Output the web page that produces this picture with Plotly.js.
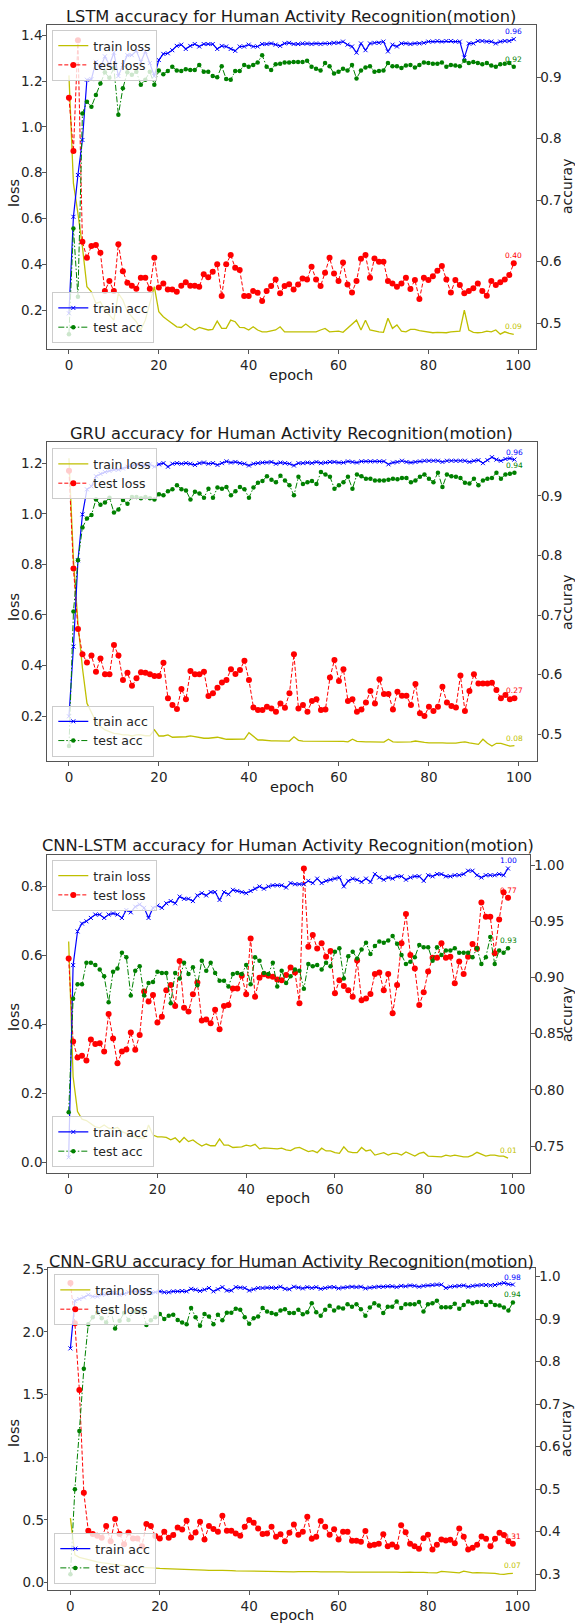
<!DOCTYPE html>
<html><head><meta charset="utf-8">
<script src="https://cdn.plot.ly/plotly-3.0.1.min.js"></script>
<style>html,body{margin:0;padding:0;background:#fff}#chart{width:575px;height:1624px}</style>
</head><body><div id="chart"></div>
<script>
// ---------------- DATA ----------------
const epochs = [...Array(100).keys()];
const seriesNames = ["train loss", "test loss", "train acc", "test acc"];
const titles = [
  "LSTM accuracy for Human Activity Recognition(motion)",
  "GRU accuracy for Human Activity Recognition(motion)",
  "CNN-LSTM accuracy for Human Activity Recognition(motion)",
  "CNN-GRU accuracy for Human Activity Recognition(motion)"
];
const xTitle = "epoch", yLeftTitle = "loss", yRightTitle = "accuray";

// LSTM
const lstmTrainLoss = [1.225,0.753,0.622,0.476,0.302,0.280,0.229,0.236,0.200,0.178,0.156,0.273,0.244,0.193,0.171,0.149,0.113,0.156,0.229,0.302,0.193,0.171,0.156,0.142,0.127,0.124,0.139,0.124,0.113,0.124,0.120,0.113,0.116,0.152,0.120,0.120,0.156,0.149,0.124,0.123,0.113,0.127,0.113,0.105,0.105,0.108,0.113,0.127,0.105,0.105,0.105,0.105,0.105,0.105,0.105,0.105,0.113,0.120,0.105,0.105,0.108,0.103,0.120,0.135,0.156,0.113,0.156,0.113,0.108,0.105,0.103,0.164,0.120,0.135,0.108,0.105,0.116,0.116,0.110,0.108,0.105,0.101,0.103,0.103,0.101,0.105,0.108,0.108,0.200,0.113,0.103,0.101,0.103,0.108,0.105,0.113,0.095,0.105,0.098,0.094];
const lstmTestLoss = [1.127,0.895,1.378,0.498,0.428,0.480,0.484,0.450,0.283,0.327,0.283,0.488,0.370,0.319,0.306,0.293,0.341,0.341,0.293,0.428,0.299,0.316,0.290,0.290,0.280,0.306,0.321,0.306,0.306,0.302,0.356,0.343,0.367,0.400,0.261,0.400,0.440,0.385,0.375,0.261,0.261,0.283,0.276,0.240,0.283,0.305,0.334,0.273,0.305,0.313,0.290,0.312,0.338,0.334,0.389,0.334,0.305,0.363,0.428,0.360,0.327,0.408,0.312,0.277,0.327,0.424,0.440,0.341,0.425,0.411,0.411,0.327,0.316,0.302,0.316,0.341,0.292,0.331,0.248,0.341,0.331,0.348,0.372,0.392,0.334,0.277,0.331,0.309,0.273,0.283,0.295,0.316,0.283,0.263,0.327,0.309,0.321,0.334,0.353,0.404];
const lstmTrainAcc = [0.516,0.673,0.741,0.798,0.896,0.897,0.925,0.915,0.934,0.920,0.940,0.902,0.920,0.936,0.936,0.943,0.925,0.942,0.923,0.902,0.928,0.938,0.939,0.944,0.951,0.953,0.946,0.951,0.954,0.950,0.954,0.954,0.954,0.946,0.951,0.950,0.946,0.943,0.950,0.950,0.953,0.950,0.950,0.954,0.954,0.955,0.953,0.951,0.955,0.956,0.954,0.954,0.955,0.955,0.954,0.955,0.954,0.955,0.955,0.956,0.956,0.958,0.953,0.950,0.940,0.955,0.944,0.955,0.956,0.956,0.958,0.942,0.953,0.950,0.955,0.955,0.954,0.955,0.955,0.956,0.958,0.958,0.959,0.958,0.959,0.959,0.958,0.958,0.932,0.955,0.955,0.959,0.959,0.958,0.958,0.955,0.958,0.959,0.959,0.962];
const lstmTestAcc = [0.482,0.654,0.543,0.841,0.860,0.852,0.871,0.890,0.908,0.899,0.915,0.839,0.882,0.908,0.904,0.909,0.888,0.896,0.909,0.888,0.911,0.905,0.910,0.917,0.911,0.910,0.913,0.912,0.912,0.920,0.909,0.909,0.902,0.900,0.918,0.897,0.896,0.910,0.910,0.920,0.917,0.920,0.924,0.936,0.917,0.912,0.921,0.922,0.924,0.924,0.925,0.925,0.925,0.927,0.917,0.914,0.911,0.923,0.918,0.906,0.909,0.914,0.911,0.920,0.898,0.911,0.916,0.918,0.909,0.910,0.911,0.923,0.918,0.918,0.915,0.919,0.920,0.916,0.920,0.924,0.923,0.922,0.922,0.924,0.917,0.920,0.919,0.918,0.927,0.923,0.925,0.923,0.921,0.923,0.919,0.917,0.921,0.922,0.923,0.917];

// GRU
const gruTrainLoss = [1.220,0.817,0.567,0.389,0.250,0.217,0.178,0.158,0.145,0.138,0.131,0.129,0.125,0.125,0.121,0.125,0.125,0.122,0.122,0.145,0.121,0.121,0.125,0.116,0.116,0.116,0.118,0.121,0.118,0.114,0.112,0.112,0.114,0.116,0.112,0.108,0.108,0.108,0.108,0.109,0.134,0.118,0.105,0.105,0.102,0.102,0.102,0.101,0.101,0.101,0.118,0.104,0.101,0.101,0.101,0.101,0.101,0.100,0.100,0.100,0.100,0.100,0.098,0.108,0.100,0.098,0.098,0.098,0.098,0.097,0.097,0.108,0.098,0.097,0.097,0.098,0.098,0.101,0.097,0.096,0.094,0.095,0.096,0.094,0.093,0.093,0.093,0.096,0.098,0.094,0.092,0.088,0.108,0.092,0.081,0.092,0.092,0.088,0.081,0.083];
const gruTestLoss = [1.170,0.784,0.544,0.444,0.412,0.439,0.375,0.428,0.365,0.365,0.481,0.439,0.342,0.371,0.320,0.349,0.373,0.371,0.365,0.358,0.358,0.411,0.270,0.244,0.228,0.307,0.266,0.378,0.365,0.365,0.375,0.279,0.290,0.312,0.333,0.342,0.385,0.366,0.382,0.419,0.342,0.234,0.224,0.224,0.237,0.230,0.217,0.250,0.233,0.290,0.444,0.230,0.244,0.217,0.259,0.266,0.224,0.226,0.352,0.422,0.339,0.385,0.259,0.266,0.217,0.226,0.253,0.299,0.250,0.345,0.287,0.287,0.226,0.296,0.280,0.280,0.244,0.327,0.211,0.200,0.237,0.220,0.237,0.316,0.253,0.240,0.234,0.360,0.220,0.299,0.365,0.329,0.329,0.329,0.332,0.303,0.270,0.283,0.266,0.270];
const gruTrainAcc = [0.530,0.647,0.792,0.869,0.911,0.916,0.933,0.937,0.940,0.942,0.944,0.944,0.946,0.949,0.950,0.953,0.952,0.951,0.953,0.949,0.953,0.955,0.949,0.954,0.955,0.954,0.955,0.954,0.952,0.955,0.956,0.954,0.955,0.952,0.955,0.958,0.956,0.957,0.955,0.954,0.951,0.954,0.955,0.956,0.956,0.957,0.954,0.956,0.955,0.954,0.951,0.955,0.955,0.956,0.955,0.957,0.955,0.956,0.957,0.957,0.956,0.956,0.958,0.957,0.956,0.958,0.958,0.958,0.958,0.958,0.958,0.953,0.956,0.957,0.959,0.957,0.956,0.957,0.958,0.959,0.959,0.959,0.959,0.957,0.959,0.959,0.959,0.959,0.959,0.957,0.959,0.960,0.955,0.960,0.965,0.961,0.959,0.962,0.963,0.961];
const gruTestAcc = [0.480,0.706,0.792,0.847,0.862,0.868,0.894,0.885,0.889,0.897,0.872,0.877,0.893,0.887,0.898,0.898,0.896,0.898,0.896,0.894,0.903,0.901,0.908,0.911,0.918,0.911,0.909,0.894,0.907,0.904,0.897,0.912,0.897,0.914,0.912,0.915,0.901,0.908,0.915,0.911,0.897,0.914,0.922,0.925,0.933,0.927,0.923,0.934,0.926,0.918,0.901,0.932,0.920,0.923,0.925,0.920,0.940,0.936,0.932,0.912,0.918,0.923,0.932,0.912,0.936,0.933,0.929,0.929,0.926,0.926,0.926,0.927,0.929,0.928,0.930,0.930,0.923,0.926,0.932,0.936,0.929,0.923,0.939,0.915,0.936,0.933,0.932,0.930,0.922,0.921,0.929,0.918,0.926,0.929,0.930,0.939,0.929,0.936,0.937,0.939];

// CNN-LSTM
const clTrainLoss = [0.641,0.249,0.148,0.126,0.122,0.114,0.104,0.101,0.109,0.100,0.098,0.102,0.090,0.085,0.078,0.075,0.071,0.071,0.109,0.080,0.075,0.075,0.073,0.066,0.072,0.059,0.073,0.061,0.066,0.056,0.048,0.054,0.049,0.049,0.069,0.051,0.051,0.044,0.046,0.046,0.051,0.048,0.053,0.040,0.043,0.042,0.040,0.040,0.042,0.037,0.035,0.042,0.044,0.039,0.032,0.035,0.029,0.042,0.034,0.034,0.029,0.027,0.046,0.032,0.029,0.029,0.044,0.034,0.037,0.022,0.025,0.029,0.022,0.027,0.027,0.022,0.031,0.025,0.019,0.027,0.030,0.019,0.019,0.017,0.017,0.022,0.019,0.022,0.019,0.017,0.017,0.022,0.030,0.024,0.019,0.022,0.022,0.019,0.019,0.013];
const clTestLoss = [0.592,0.351,0.305,0.310,0.296,0.357,0.344,0.346,0.322,0.431,0.360,0.288,0.322,0.328,0.377,0.327,0.370,0.496,0.467,0.486,0.406,0.423,0.500,0.515,0.454,0.585,0.449,0.438,0.488,0.522,0.412,0.415,0.404,0.443,0.387,0.454,0.457,0.505,0.505,0.542,0.488,0.650,0.481,0.536,0.546,0.542,0.539,0.531,0.529,0.544,0.566,0.551,0.462,0.853,0.626,0.660,0.621,0.636,0.597,0.614,0.491,0.529,0.512,0.500,0.481,0.586,0.471,0.476,0.489,0.547,0.551,0.500,0.547,0.433,0.515,0.636,0.721,0.602,0.563,0.457,0.494,0.554,0.594,0.594,0.636,0.594,0.597,0.520,0.583,0.547,0.597,0.634,0.620,0.754,0.713,0.713,0.607,0.705,0.784,0.768];
const clTrainAcc = [0.740,0.911,0.941,0.948,0.950,0.953,0.956,0.956,0.953,0.956,0.957,0.956,0.953,0.960,0.958,0.963,0.965,0.962,0.953,0.962,0.964,0.962,0.966,0.968,0.966,0.972,0.970,0.970,0.968,0.973,0.975,0.973,0.976,0.976,0.969,0.976,0.974,0.978,0.977,0.976,0.975,0.977,0.979,0.981,0.979,0.981,0.982,0.982,0.982,0.980,0.984,0.983,0.983,0.983,0.986,0.984,0.988,0.984,0.986,0.987,0.988,0.989,0.981,0.986,0.988,0.987,0.985,0.988,0.985,0.992,0.989,0.987,0.989,0.988,0.990,0.990,0.987,0.989,0.990,0.990,0.986,0.991,0.990,0.992,0.992,0.990,0.990,0.991,0.991,0.992,0.995,0.995,0.991,0.989,0.991,0.991,0.991,0.992,0.991,0.997];
const clTestAcc = [0.780,0.881,0.894,0.894,0.913,0.913,0.911,0.907,0.901,0.878,0.905,0.908,0.922,0.918,0.884,0.906,0.910,0.884,0.895,0.896,0.905,0.904,0.904,0.877,0.904,0.899,0.913,0.903,0.909,0.893,0.915,0.906,0.913,0.904,0.897,0.897,0.892,0.903,0.904,0.903,0.911,0.894,0.918,0.915,0.904,0.903,0.913,0.892,0.906,0.895,0.901,0.907,0.906,0.890,0.912,0.910,0.911,0.907,0.913,0.910,0.923,0.926,0.899,0.919,0.923,0.917,0.925,0.931,0.921,0.928,0.932,0.931,0.933,0.937,0.930,0.920,0.912,0.914,0.918,0.929,0.927,0.927,0.915,0.927,0.920,0.924,0.924,0.926,0.922,0.922,0.922,0.918,0.926,0.912,0.918,0.936,0.912,0.924,0.922,0.926];

// CNN-GRU
const cgTrainLoss = [0.514,0.220,0.200,0.190,0.180,0.172,0.165,0.158,0.152,0.146,0.140,0.136,0.132,0.128,0.125,0.122,0.120,0.118,0.116,0.114,0.112,0.111,0.110,0.110,0.108,0.105,0.107,0.102,0.100,0.102,0.099,0.096,0.099,0.097,0.096,0.098,0.095,0.093,0.092,0.091,0.093,0.091,0.090,0.089,0.089,0.088,0.087,0.088,0.085,0.086,0.085,0.086,0.087,0.085,0.084,0.086,0.084,0.085,0.083,0.086,0.085,0.084,0.083,0.084,0.085,0.083,0.084,0.086,0.083,0.082,0.083,0.082,0.083,0.082,0.081,0.083,0.082,0.080,0.082,0.081,0.078,0.079,0.077,0.088,0.085,0.079,0.078,0.077,0.090,0.084,0.077,0.078,0.077,0.076,0.079,0.073,0.067,0.065,0.070,0.072];
const cgTestLoss = [2.390,2.069,1.536,0.716,0.413,0.386,0.373,0.357,0.450,0.330,0.506,0.386,0.306,0.399,0.351,0.351,0.290,0.466,0.450,0.370,0.351,0.405,0.357,0.378,0.439,0.423,0.493,0.359,0.399,0.485,0.343,0.450,0.426,0.405,0.532,0.413,0.413,0.391,0.373,0.445,0.498,0.477,0.431,0.386,0.391,0.445,0.365,0.384,0.330,0.397,0.463,0.381,0.405,0.525,0.349,0.365,0.490,0.445,0.381,0.424,0.344,0.405,0.405,0.333,0.333,0.325,0.410,0.296,0.301,0.309,0.384,0.290,0.304,0.283,0.456,0.400,0.309,0.290,0.269,0.354,0.381,0.264,0.301,0.344,0.336,0.341,0.314,0.430,0.365,0.264,0.277,0.301,0.368,0.349,0.290,0.349,0.397,0.378,0.330,0.309];
const cgTrainAcc = [0.831,0.943,0.947,0.951,0.957,0.953,0.953,0.957,0.958,0.961,0.961,0.957,0.959,0.963,0.965,0.965,0.962,0.965,0.961,0.963,0.965,0.963,0.963,0.965,0.965,0.966,0.965,0.971,0.969,0.966,0.969,0.973,0.965,0.970,0.975,0.967,0.967,0.975,0.974,0.973,0.967,0.970,0.973,0.973,0.974,0.974,0.973,0.976,0.971,0.970,0.976,0.974,0.972,0.975,0.973,0.975,0.971,0.973,0.975,0.975,0.972,0.974,0.975,0.976,0.975,0.976,0.972,0.974,0.975,0.976,0.976,0.977,0.977,0.975,0.978,0.977,0.979,0.978,0.976,0.978,0.979,0.980,0.981,0.981,0.973,0.976,0.977,0.978,0.979,0.976,0.978,0.979,0.980,0.980,0.979,0.980,0.983,0.985,0.982,0.981];
const cgTestAcc = [0.300,0.500,0.637,0.783,0.888,0.904,0.915,0.902,0.892,0.922,0.878,0.896,0.914,0.898,0.918,0.918,0.922,0.886,0.897,0.904,0.912,0.900,0.908,0.910,0.898,0.892,0.888,0.926,0.904,0.884,0.912,0.906,0.888,0.910,0.897,0.915,0.915,0.924,0.922,0.904,0.889,0.902,0.906,0.926,0.918,0.914,0.911,0.920,0.923,0.914,0.914,0.922,0.911,0.916,0.937,0.916,0.908,0.922,0.931,0.920,0.927,0.925,0.935,0.929,0.935,0.923,0.908,0.927,0.937,0.932,0.914,0.929,0.929,0.941,0.926,0.935,0.935,0.935,0.940,0.918,0.935,0.937,0.943,0.928,0.928,0.928,0.936,0.924,0.933,0.941,0.937,0.940,0.940,0.933,0.940,0.933,0.932,0.927,0.920,0.939];

// axis tick settings per panel
const leftTicks  = [{dtick:0.2, fmt:".1f"}, {dtick:0.2, fmt:".1f"}, {dtick:0.2, fmt:".1f"}, {dtick:0.5, fmt:".1f"}];
const rightTicks = [{dtick:0.1, fmt:".1f"}, {dtick:0.1, fmt:".1f"}, {dtick:0.05, fmt:".2f"}, {dtick:0.1, fmt:".1f"}];
const leftRanges  = [[0.03, 1.445], [0.022, 1.283], [-0.03, 0.892], [-0.06, 2.51]];
const rightRanges = [[0.458, 0.985], [0.455, 0.99], [0.726, 1.009], [0.263, 1.02]];

const panelData = [
  [lstmTrainLoss, lstmTestLoss, lstmTrainAcc, lstmTestAcc],
  [gruTrainLoss, gruTestLoss, gruTrainAcc, gruTestAcc],
  [clTrainLoss, clTestLoss, clTrainAcc, clTestAcc],
  [cgTrainLoss, cgTestLoss, cgTrainAcc, cgTestAcc]
];

// ---------------- LAYOUT GEOMETRY (pixels) ----------------
const W = 575, H = 1624;
const geom = [
  {l:46.7, r:536,   t:25,    b:349,  titleY:16.5, epochY:375,  lossY:193, accY:187,  accX:567},
  {l:46.7, r:536.7, t:442.3, b:761,  titleY:433,  epochY:787,  lossY:607, accY:603,  accX:567},
  {l:46.7, r:530,   t:855,   b:1173, titleY:845.5,epochY:1198, lossY:1017,accY:1015, accX:567},
  {l:48.3, r:535,   t:1268,  b:1590, titleY:1261, epochY:1615, lossY:1433,accY:1430, accX:566}
];
const legendPos = [
  {upTop:30, lowBot:343.3, x:52.3},
  {upTop:448.3, lowBot:756.7, x:52.3},
  {upTop:860, lowBot:1167.3, x:52.3},
  {upTop:1274.3, lowBot:1584, x:54.3}
];
const px = v => v / W, py = v => 1 - v / H;

const colors = ["#bfbf00", "#ff0000", "#0000ff", "#008000"];
const FONT = "DejaVu Sans";
const AX = "#555555";

const traces = [];
const layout = {
  width: W, height: H,
  margin: {l:0, r:0, t:0, b:0},
  paper_bgcolor: "#ffffff", plot_bgcolor: "#ffffff",
  font: {family: FONT, color: "#262626", size: 13},
  showlegend: true,
  annotations: []
};

function styleFor(k) {
  if (k === 0) return {mode:"lines", line:{color:colors[0], width:1.3}};
  if (k === 1) return {mode:"lines+markers", line:{color:colors[1], width:1, dash:"4px,2px"},
                       marker:{symbol:"circle", size:6, color:colors[1]}};
  if (k === 2) return {mode:"lines+markers", line:{color:colors[2], width:1.2},
                       marker:{symbol:"x-thin", size:4, color:colors[2], line:{color:colors[2], width:1}}};
  return {mode:"lines+markers", line:{color:colors[3], width:1, dash:"6px,2px,1.5px,2px"},
          marker:{symbol:"circle", size:4.5, color:colors[3]}};
}

for (let i = 0; i < 4; i++) {
  const g = geom[i];
  const xa = i === 0 ? "x" : "x" + (i + 1);
  const yL = i === 0 ? "y" : "y" + (2 * i + 1);
  const yR = "y" + (2 * i + 2);
  const xKey = i === 0 ? "xaxis" : "xaxis" + (i + 1);
  const yLKey = i === 0 ? "yaxis" : "yaxis" + (2 * i + 1);
  const yRKey = "yaxis" + (2 * i + 2);
  const legL = i === 0 ? "legend" : "legend" + (2 * i + 1);
  const legR = "legend" + (2 * i + 2);

  const common = {
    ticks: "outside", ticklen: 3.5, tickwidth: 1, tickcolor: AX,
    showline: true, linecolor: AX, linewidth: 1,
    showgrid: false, zeroline: false,
    tickfont: {family: FONT, size: 13.5, color: "#262626"}
  };
  layout[xKey] = Object.assign({}, common, {
    domain: [px(g.l), px(g.r)], range: [-4.95, 103.95], anchor: yL,
    tickmode: "array", tickvals: [0, 20, 40, 60, 80, 100], mirror: true
  });
  layout[yLKey] = Object.assign({}, common, {
    domain: [py(g.b), py(g.t)], range: leftRanges[i], anchor: xa,
    tick0: 0, dtick: leftTicks[i].dtick, tickformat: leftTicks[i].fmt, mirror: true,
    ticklabelstandoff: -3
  });
  layout[yRKey] = Object.assign({}, common, {
    overlaying: yL, side: "right", anchor: xa, range: rightRanges[i],
    tick0: 0, dtick: rightTicks[i].dtick, tickformat: rightTicks[i].fmt,
    ticklabelstandoff: -3
  });

  const legCommon = {
    bgcolor: "rgba(255,255,255,0.8)", bordercolor: "#cccccc", borderwidth: 1,
    font: {family: FONT, size: 12.5, color: "#262626"}, xanchor: "left",
    tracegroupgap: 0, itemwidth: 30
  };
  layout[legL] = Object.assign({}, legCommon, {x: px(legendPos[i].x), y: py(legendPos[i].upTop), yanchor: "top"});
  layout[legR] = Object.assign({}, legCommon, {x: px(legendPos[i].x), y: py(legendPos[i].lowBot), yanchor: "bottom"});

  const d = panelData[i];
  for (let k = 0; k < 4; k++) {
    const isAcc = k >= 2;
    traces.push(Object.assign({
      type: "scatter", x: epochs, y: d[k], name: seriesNames[k],
      xaxis: xa, yaxis: isAcc ? yR : yL, legend: isAcc ? legR : legL,
      hoverinfo: "x+y"
    }, styleFor(k)));
    const last = d[k][d[k].length - 1];
    layout.annotations.push({
      x: epochs[epochs.length - 1], y: last, xref: xa, yref: isAcc ? yR : yL,
      text: last.toFixed(2), showarrow: false, xanchor: "center", yanchor: "bottom", yshift: 1,
      font: {family: FONT, size: 7.5, color: colors[k]}
    });
  }

  // titles
  layout.annotations.push({
    x: px((g.l + g.r) / 2), y: py(g.titleY), xref: "paper", yref: "paper",
    text: titles[i], showarrow: false, xanchor: "center", yanchor: "middle",
    font: {family: FONT, size: 16.3, color: "#1a1a1a"}
  });
  layout.annotations.push({
    x: px((g.l + g.r) / 2), y: py(g.epochY), xref: "paper", yref: "paper",
    text: xTitle, showarrow: false, xanchor: "center", yanchor: "middle",
    font: {family: FONT, size: 14.5, color: "#1a1a1a"}
  });
  layout.annotations.push({
    x: px(14), y: py(g.lossY), xref: "paper", yref: "paper", textangle: -90,
    text: yLeftTitle, showarrow: false, xanchor: "center", yanchor: "middle",
    font: {family: FONT, size: 14.5, color: "#1a1a1a"}
  });
  layout.annotations.push({
    x: px(g.accX), y: py(g.accY), xref: "paper", yref: "paper", textangle: -90,
    text: yRightTitle, showarrow: false, xanchor: "center", yanchor: "middle",
    font: {family: FONT, size: 14, color: "#1a1a1a"}
  });
}

Plotly.newPlot("chart", traces, layout, {displayModeBar: false, staticPlot: true});
</script></body></html>
